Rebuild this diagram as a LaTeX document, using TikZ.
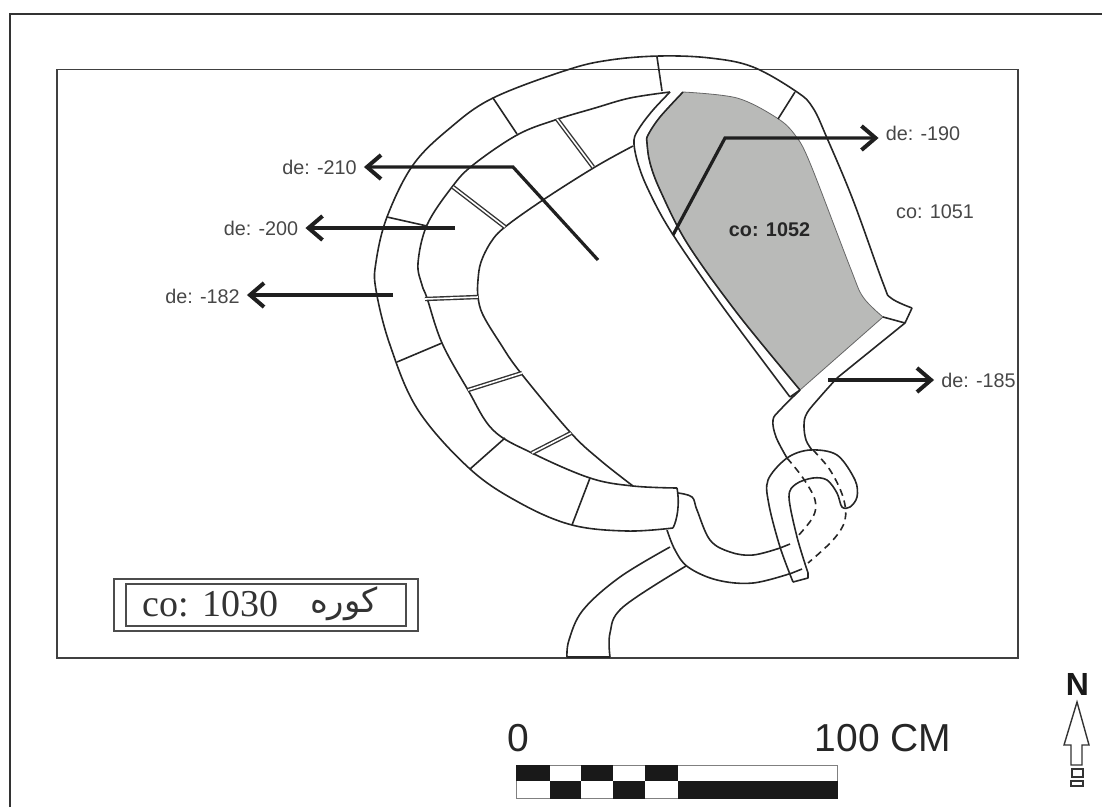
\documentclass[tikz,border=0pt]{standalone}
\usepackage{fontspec}
\setmainfont{Liberation Sans}
\newfontfamily\legendfont{Liberation Serif}
\newfontfamily\arabicfont[Script=Arabic]{DejaVu Sans}
\TeXXeTstate=1
\usetikzlibrary{arrows.meta}
\definecolor{roomgrey}{RGB}{185,186,184}
\tikzset{
	wall/.style={line width=1.6pt, color=black!85, line join=round},
	dashedwall/.style={wall, dash pattern=on 7pt off 5pt},
	partition/.style={double=white, double distance=1.6pt, line width=1.4pt, color=black!80},
	leader/.style={line width=3.2pt, color=black!88, shorten >=7pt, -{Straight Barb[length=14pt,width=24pt,line width=4pt]}},
	lab/.style={inner sep=0pt, font=\fontsize{19.8}{22}\selectfont, text=black!72},
	blackcell/.style={fill=black!90, draw=none}
}
\begin{document}
\begin{tikzpicture}[x=1pt, y=-1pt]
	%%%%% FRAMES %%%%%
	\useasboundingbox (0, 0) rectangle (1102, 807);
	\draw[line width=1.2pt, color=black!80] (10, 807) -- (10, 14) -- (1102, 14);
	\draw[line width=1.8pt, color=black!75] (57, 69.5) rectangle (1018, 658);
	
	%%%%% GREY ROOM %%%%%
	\draw[fill=roomgrey, draw=black!60, line width=0.8pt] plot[smooth, tension=0.55] coordinates {(683,92) (737,98) (777,118) (795,135) (810,163) (850,267) (863,297) (883,317)} -- (800,390) -- plot[smooth, tension=0.55] coordinates {(800,390) (737,313) (687,243) (660,190) (650,163) (647,143) (648,135) (660,117) (683,92)};
	
	%%%%% RING %%%%%
	\draw[wall] plot[smooth, tension=0.6] coordinates {(673,528) (627,531) (572,525) (520,503) (470,469) (418,410) (390,345) (376,290) (376,262) (387,217) (413,165) (450,128) (493,98) (567,70) (610,60) (660,56) (710,58) (753,67) (797,92) (813,108) (827,138) (853,200) (883,283) (891,298) (912,308)};
	\draw[wall] plot[smooth, tension=0.6] coordinates {(670,92) (630,98) (595,108) (555,120) (517,135) (473,165) (452,187) (427,225) (418,263) (422,285) (427,298) (442,343) (468,390) (493,430) (532,453) (590,478) (633,486) (677,488)};
	\draw[wall] plot[smooth, tension=0.6] coordinates {(633,146) (595,167) (543,200) (505,227) (491,242) (481,262) (478,280) (478,297) (483,315) (500,343) (520,372) (570,432) (600,460) (633,486)};
	\draw[wall] (677,488) .. controls (680,505) and (677,520) .. (673,528);
	
	%%%%% CROSS WALLS %%%%%
	\draw[wall] (657,57) -- (662,91);
	\draw[wall] (493,98) -- (517,134);
	\draw[wall] (387,217) -- (427,226);
	\draw[wall] (397,362) -- (442,343);
	\draw[wall] (470,469) -- (505,438);
	\draw[wall] (572,525) -- (590,478);
	\draw[wall] (795,92) -- (778,119);
	\draw[partition] (557,119) -- (593,167);
	\draw[partition] (453,187) -- (505,227);
	\draw[partition] (425,299) -- (478,297);
	\draw[partition] (468,390) -- (522,373);
	\draw[partition] (532,453) -- (571,433);
	
	%%%%% NARROW WALL AND NECK %%%%%
	\draw[wall] plot[smooth, tension=0.55] coordinates {(670,92) (653,110) (640,127) (634,140) (637,160) (647,187) (670,230) (720,303) (790,397)};
	\draw[wall] plot[smooth, tension=0.55] coordinates {(683,92) (660,117) (648,135) (647,143) (650,163) (660,190) (687,243) (737,313) (800,390)};
	\draw[wall] (790,397) -- (800,390);
	\draw[wall] (883,317) -- (905,323) -- (912,308);
	\draw[wall] (905,323) -- (837,378);
	\draw[wall] plot[smooth, tension=0.6] coordinates {(837,378) (820,397) (807,413) (804,425) (806,440) (812,450)};
	\draw[wall] plot[smooth, tension=0.6] coordinates {(800,390) (780,410) (773,420) (776,437) (787,458)};
	
	%%%%% HOOK %%%%%
	\draw[wall] plot[smooth, tension=0.55] coordinates {(793,582) (780,547) (769,505) (768,480) (787,458) (810,450) (837,455) (855,480) (857,497) (850,507) (842,507) (837,493) (827,480) (813,478) (796,484) (789,497) (797,537) (808,573)} -- (808,578) -- (793,582);
	\draw[dashedwall] plot[smooth, tension=0.6] coordinates {(787,458) (803,478) (815,500) (813,517) (797,537)};
	\draw[dashedwall] plot[smooth, tension=0.6] coordinates {(813,450) (830,470) (843,497) (845,520) (833,540) (808,563)};
	
	%%%%% CHANNEL %%%%%
	\draw[wall] plot[smooth, tension=0.6] coordinates {(678,493) (692,497) (697,510) (710,540) (730,552) (753,555) (780,548)};
	\draw[wall] (780,548) -- (790,544);
	\draw[wall] plot[smooth, tension=0.6] coordinates {(667,530) (675,550) (688,567) (717,580) (753,583) (792,573)};
	\draw[wall] (792,573) -- (802,569);
	\draw[wall] plot[smooth, tension=0.6] coordinates {(670,547) (620,577) (583,610) (569,640) (567,657)};
	\draw[wall] plot[smooth, tension=0.6] coordinates {(686,566) (623,607) (610,633) (610,657)};
	\draw[line width=2.5pt, color=black!85] (567,657) -- (610,657);
	
	%%%%% LABELS %%%%%
	\node[lab] (lab210) at (319.5, 167) {de: -210};
	\node[lab] (lab200) at (261, 228) {de: -200};
	\node[lab] (lab182) at (202.5, 296) {de: -182};
	\node[lab] (lab190) at (923, 133) {de: -190};
	\node[lab] (lab185) at (978.5, 380) {de: -185};
	\node[lab] (lab1051) at (935, 212) {co: 1051};
	\node[lab, font=\fontsize{19.8}{22}\selectfont\bfseries, text=black!85] (lab1052) at (769.5, 230) {co: 1052};
	
	%%%%% ARROWS %%%%%
	\coordinate (tail210) at (598, 260);
	\coordinate (elbow210) at (513, 167);
	\coordinate (tail200) at (455, 228);
	\coordinate (tail182) at (393, 295);
	\coordinate (tail190) at (673, 235);
	\coordinate (elbow190) at (725, 138);
	\coordinate (tail185) at (828, 380);
	\draw[leader] (tail210) -- (elbow210) -- (lab210.east |- elbow210);
	\draw[leader] (tail200) -- (lab200.east |- tail200);
	\draw[leader] (tail182) -- (lab182.east |- tail182);
	\draw[leader] (tail190) -- (elbow190) -- (lab190.west |- elbow190);
	\draw[leader] (tail185) -- (lab185.west |- tail185);
	
	%%%%% LEGEND %%%%%
	\draw[line width=1.8pt, color=black!70] (114, 579) rectangle (418, 631);
	\draw[line width=1.8pt, color=black!70] (126, 584) rectangle (406, 626);
	\node[inner sep=0pt, font=\fontsize{38}{42}\selectfont\legendfont, text=black!80] (legendco) at (210.5, 604) {co: 1030};
	\node[inner sep=0pt, font=\fontsize{34}{40}\selectfont\arabicfont, text=black!80] (legendkura) at (344, 604) {\beginR كوره\endR};
	
	%%%%% SCALE %%%%%
	\node[inner sep=0pt, font=\fontsize{39}{44}\selectfont, text=black!85] (scalezero) at (518, 738) {0};
	\node[inner sep=0pt, font=\fontsize{39}{44}\selectfont, text=black!85] (scalehundred) at (883, 738) {100 CM};
	\draw[line width=1pt, color=black!50] (516, 765) rectangle (837.5, 798.5);
	\fill[blackcell] (516, 765) rectangle (550, 781);
	\fill[blackcell] (581, 765) rectangle (613, 781);
	\fill[blackcell] (645, 765) rectangle (677.5, 781);
	\fill[blackcell] (550, 781) rectangle (581, 798.5);
	\fill[blackcell] (613, 781) rectangle (645, 798.5);
	\fill[blackcell] (677.5, 781) rectangle (837.5, 798.5);
	
	%%%%% NORTH %%%%%
	\node[inner sep=0pt, font=\fontsize{32}{36}\selectfont\bfseries, text=black!90] (north) at (1077.5, 684) {N};
	\draw[line width=1.4pt, color=black!80, line join=miter] (1077,702) -- (1064,745) -- (1071,745) -- (1071,765) -- (1082,765) -- (1082,745) -- (1089,745) -- cycle;
	\draw[line width=1.4pt, color=black!80] (1072,769) rectangle (1083,777);
	\draw[line width=1.4pt, color=black!80] (1071,781) rectangle (1083,786);
	
	%%%%% END %%%%%
\end{tikzpicture}
\end{document}
